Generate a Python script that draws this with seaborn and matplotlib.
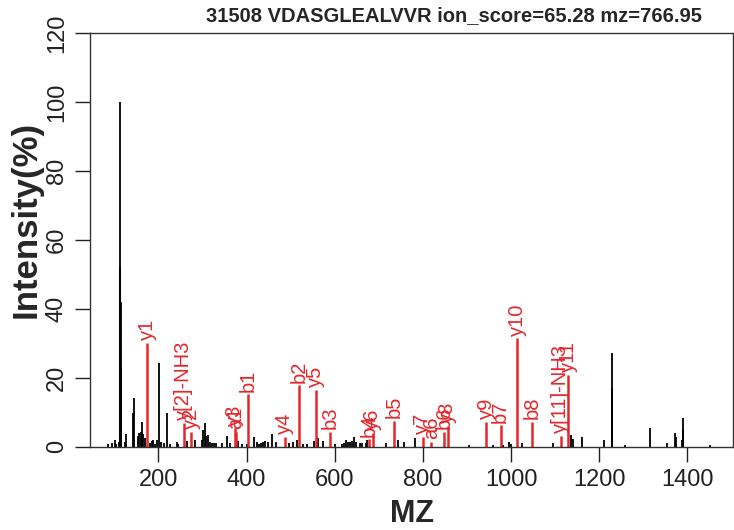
import numpy as np
import matplotlib
matplotlib.use("Agg")
import matplotlib.pyplot as plt
import seaborn as sns

sns.set_style("ticks")
plt.rcParams['font.family'] = ['Liberation Sans', 'DejaVu Sans']

title = "31508 VDASGLEALVVR ion_score=65.28 mz=766.95"

# unmatched peaks (black)
peak_mz = [86, 95, 101, 104, 110, 113.0, 114.1, 115.0, 116.0,
           124, 127, 142.5, 145.5, 153, 157, 160, 163, 166, 169.5, 181, 185, 188.5,
           193, 198, 200.7, 206, 213, 219.6, 226, 241.6, 245, 264, 284, 298, 302,
           305, 309, 313, 317, 322, 326, 330, 344, 356, 363, 381, 389, 400.5, 417,
           423, 429, 434, 438, 443, 448, 457, 468, 496, 506, 514, 529, 538, 553,
           563, 574, 601, 616, 621, 625, 629.5, 634.8, 639.3, 644, 648.4, 657.4,
           661.3, 670.4, 674, 716.4, 743.6, 757.3, 782.2, 904.7, 958.5, 982.5,
           996, 1000, 1024, 1094.6, 1135.4, 1140, 1160.4, 1211, 1228.4, 1229.4,
           1259.3, 1314.7, 1354.6, 1371.4, 1373.6, 1387.3, 1389.5, 1390.5, 1451.4]
peak_int = [0.8, 1.2, 2.0, 0.9, 1.5, 100.0, 52.0, 42.0, 22.5,
            1.3, 3.6, 9.9, 14.0, 3.0, 4.0, 4.3, 7.1, 3.8, 2.5, 1.0, 1.7, 2.0,
            0.8, 2.0, 24.4, 1.5, 1.1, 9.9, 0.8, 1.4, 0.9, 1.7, 2.0, 2.0, 4.7,
            6.8, 3.0, 3.3, 1.4, 1.0, 1.0, 1.0, 1.2, 3.0, 1.2, 1.6, 0.9, 0.8, 2.8,
            1.4, 0.9, 1.2, 1.4, 1.6, 1.4, 3.6, 1.4, 1.2, 1.4, 2.0, 0.9, 0.8, 1.6,
            2.5, 1.7, 0.7, 0.7, 1.0, 1.8, 1.3, 1.4, 1.7, 2.9, 1.3, 1.0,
            1.2, 1.2, 1.8, 1.2, 1.8, 1.5, 2.6, 0.6, 0.6, 0.6,
            1.4, 0.9, 1.0, 1.2, 3.4, 2.2, 2.7, 1.8, 27.1, 17.0,
            0.6, 5.5, 1.0, 3.9, 2.8, 1.8, 8.4, 5.2, 0.5]

# matched fragment ions (red)
ion_mz = [175.1, 257.2, 274.2, 373.3, 376.3, 404.3, 486.3, 519.3, 557.4, 590.4,
          677.4, 686.4, 734.4, 799.5, 819.5, 847.5, 856.5, 943.6, 976.5, 1014.6,
          1047.6, 1112.6, 1129.6]
ion_int = [30.0, 6.8, 4.3, 5.3, 4.2, 15.2, 2.9, 17.8, 16.4, 4.2,
           2.1, 3.9, 7.5, 2.8, 1.4, 4.2, 6.1, 7.2, 6.2, 31.4,
           7.2, 3.1, 20.8]
ion_label = ['y1', 'y[2]-NH3', 'y2', 'y3', 'a1', 'b1', 'y4', 'b2', 'y5', 'b3',
             'b4', 'y6', 'b5', 'y7', 'a6', 'b6', 'y8', 'y9', 'b7', 'y10',
             'b8', 'y[11]-NH3', 'y11']

red = '#e5262b'

fig = plt.figure(figsize=(7.34, 5.30), dpi=100)
ax = fig.add_axes([90 / 734, 1 - 446.7 / 530, 643 / 734, 413.7 / 530])

ax.vlines(peak_mz, 0, peak_int, color='black', lw=1.3)
ax.vlines(ion_mz, 0, ion_int, color=red, lw=1.8)
for m, v, lab in zip(ion_mz, ion_int, ion_label):
    ax.annotate(lab, (m, v), xytext=(0, 2), textcoords='offset points',
                rotation=90, ha='center', va='bottom', color=red, fontsize=14.5)

ax.set_xlim(45, 1503.5)
ax.set_ylim(0, 120)
ax.set_xticks([200, 400, 600, 800, 1000, 1200, 1400])
ax.set_yticks([0, 20, 40, 60, 80, 100, 120])
ax.tick_params(length=11, width=1, labelsize=17, pad=5, colors='#222222')
ax.tick_params(axis='y', labelrotation=90)
for t in ax.get_yticklabels():
    t.set_va('center')
for s in ax.spines.values():
    s.set_linewidth(1)
    s.set_color('#333333')

ax.set_xlabel('MZ', fontsize=22, fontweight='bold', labelpad=6)
ax.set_ylabel('Intensity(%)', fontsize=25, fontweight='bold')
ax.yaxis.set_label_coords(-0.074, 0.55)
fig.text(454.5 / 734, 1 - 16 / 530, title, ha='center', va='center',
         fontsize=14.5, fontweight='bold')

fig.savefig('out.png', dpi=100)
